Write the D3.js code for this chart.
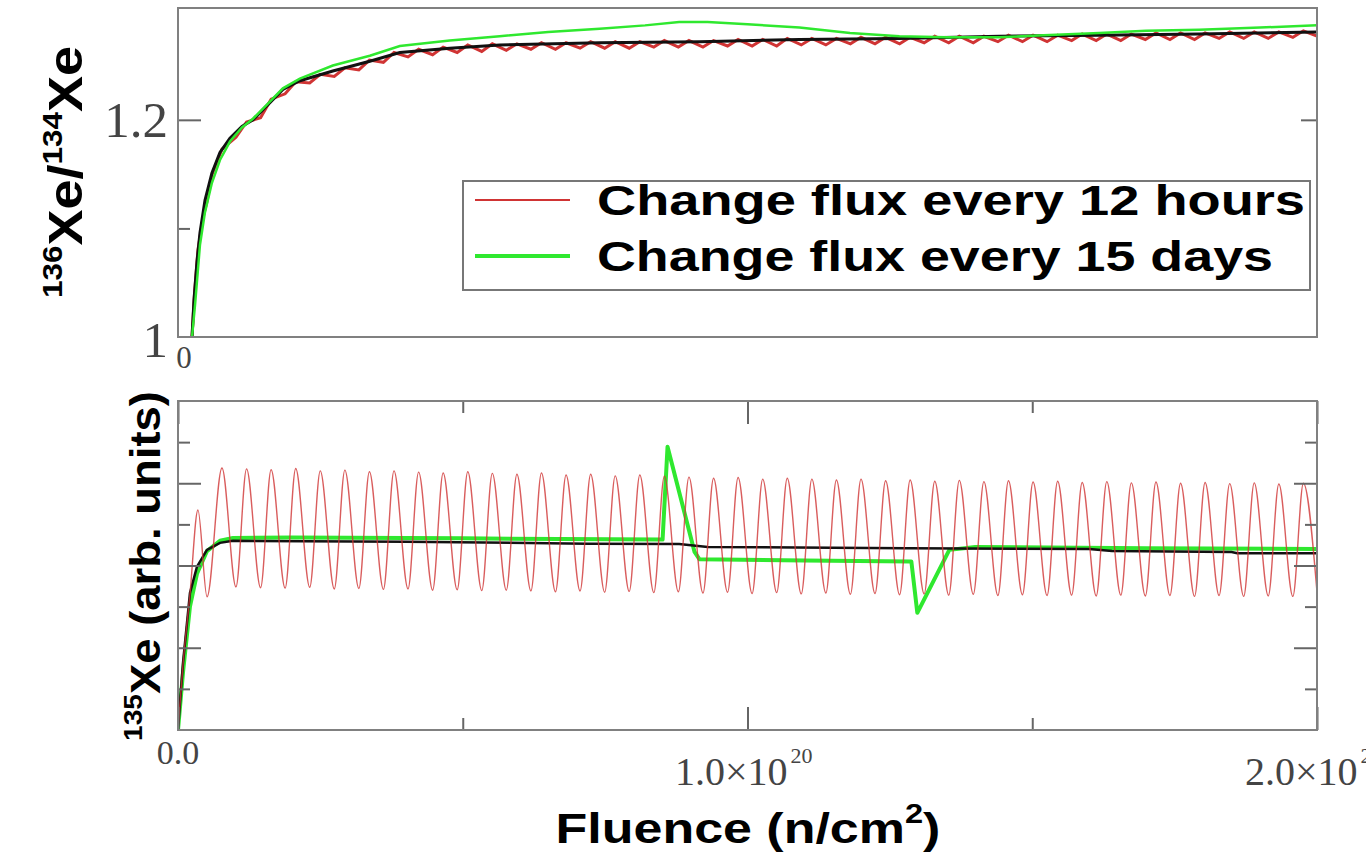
<!DOCTYPE html>
<html lang="en">
<head>
<meta charset="utf-8">
<title>Xe ratio vs fluence</title>
<script src="https://d3js.org/d3.v7.min.js"></script>
<style>
  html, body { margin: 0; padding: 0; background: #fff; }
  svg { display: block; }
</style>
</head>
<body>
<svg id="chart" width="1366" height="861"></svg>
<script>
// fluence in units of 1e18 n/cm2
var xTicksMajor = [0, 100, 200];
var xTicksMinor = [50, 150];
var topTicksMajor = [1.2];
var topTicksMinor = [1.1];
var botTicksMajor = [2, 4, 6];
var botTicksMinor = [1, 3, 5, 7];
var legendLabels = ["Change flux every 12 hours", "Change flux every 15 days"];

// top panel: 136Xe/134Xe
var ratioBlack = [[2.46,1.0],[2.81,1.034],[3.33,1.069],[3.86,1.096],[4.74,1.126],[5.96,1.151],[7.37,1.17],
  [9.12,1.183],[11.23,1.194],[13.16,1.2],[15.79,1.214],[18.42,1.228],[21.4,1.236],[27.19,1.245],[33.68,1.254],
  [38.95,1.262],[47.72,1.266],[56.49,1.269],[74.04,1.271],[91.58,1.272],[109.12,1.274],[126.67,1.275],
  [144.21,1.277],[161.75,1.278],[179.3,1.279],[200,1.281]];
var ratioGreen = [[2.46,1.0],[3.0,1.03],[3.86,1.085],[4.74,1.115],[5.96,1.142],[7.37,1.163],[9.12,1.18],
  [11.23,1.193],[13.16,1.201],[15.79,1.215],[18.42,1.229],[21.4,1.238],[27.19,1.25],[33.68,1.259],
  [38.95,1.268],[47.72,1.273],[56.49,1.277],[65,1.281],[74.04,1.284],[82,1.287],[88,1.29],[93,1.29],
  [100,1.288],[109.12,1.285],[118,1.28],[126.67,1.277],[135,1.276],[144.21,1.276],[152,1.278],
  [161.75,1.28],[170,1.282],[179.3,1.283],[190,1.285],[200,1.287]];
var ratioRed = [[2.46,1.0],[2.9,1.04],[3.5,1.08],[4.4,1.11],[5.1,1.125],[6.0,1.15],
  [7.72,1.173],[10.18,1.184],[12.04,1.198],[14.5,1.202],[16.35,1.219],[18.81,1.224],[20.67,1.235],[23.13,1.234],
  [24.98,1.242],[27.44,1.24],[29.3,1.248],[31.76,1.246],[33.61,1.255],[36.07,1.253],[37.93,1.262],[40.39,1.258],
  [42.25,1.265],[44.71,1.26],[46.56,1.267],[49.02,1.262],[50.88,1.269],[53.34,1.263],[55.19,1.27],[57.65,1.264],
  [59.51,1.27],[61.97,1.265],[63.82,1.271],[66.28,1.265],[68.14,1.271],[70.6,1.266],[72.46,1.272],[74.92,1.266],
  [76.77,1.272],[79.23,1.266],[81.09,1.272],[83.55,1.267],[85.4,1.273],[87.86,1.267],[89.72,1.273],[92.18,1.267],
  [94.04,1.273],[96.5,1.268],[98.35,1.274],[100.81,1.268],[102.67,1.274],[105.13,1.268],[106.98,1.275],[109.44,1.269],
  [111.3,1.275],[113.76,1.269],[115.61,1.275],[118.07,1.27],[119.93,1.276],[122.39,1.27],[124.25,1.276],[126.71,1.27],
  [128.56,1.276],[131.02,1.271],[132.88,1.277],[135.34,1.271],[137.19,1.277],[139.65,1.271],[141.51,1.277],[143.97,1.272],
  [145.82,1.278],[148.28,1.272],[150.14,1.278],[152.6,1.272],[154.46,1.278],[156.92,1.273],[158.77,1.279],[161.23,1.273],
  [163.09,1.279],[165.55,1.273],[167.4,1.279],[169.86,1.274],[171.72,1.28],[174.18,1.274],[176.04,1.28],[178.5,1.274],
  [180.35,1.28],[182.81,1.275],[184.67,1.281],[187.13,1.275],[188.98,1.281],[191.44,1.275],[193.3,1.281],[195.76,1.276],
  [197.61,1.282],[200,1.277]];

// bottom panel: 135Xe (arb. units)
var xeBlack = [[0,0],[0.88,1.63],[2.1,3.33],[3.33,3.97],[5.08,4.38],[7.37,4.55],[9.65,4.6],[40,4.58],
  [72,4.53],[88,4.52],[93,4.45],[115,4.43],[128,4.42],[160,4.4],[164,4.35],[185,4.33],[186,4.3],[200,4.3]];
var xeGreen = [[0,0],[0.88,1.4],[2.1,3.0],[3.33,3.8],[5.08,4.35],[7.37,4.6],[9.65,4.67],[20,4.68],[50,4.66],
  [85.09,4.63],[85.96,6.89],[90.7,4.33],[91.58,4.15],[110,4.12],[128.77,4.1],[129.82,2.85],[135.44,4.38],
  [140,4.45],[170,4.42],[200,4.4]];
var xeRed = [[0,0],[0.88,1.6],[2.1,3.3],[3.5,5.35],[5.1,3.24],
  [7.72,6.37],[10.18,3.48],[12.04,6.35],[14.5,3.46],[16.35,6.33],[18.81,3.45],[20.67,6.36],[23.13,3.47],
  [24.98,6.3],[27.44,3.43],[29.3,6.32],[31.76,3.44],[33.61,6.28],[36.07,3.42],[37.93,6.3],[40.39,3.43],
  [42.25,6.27],[44.71,3.4],[46.56,6.25],[49.02,3.41],[50.88,6.28],[53.34,3.39],[55.19,6.24],[57.65,3.4],
  [59.51,6.22],[61.97,3.38],[63.82,6.25],[66.28,3.36],[68.14,6.2],[70.6,3.38],[72.46,6.22],[74.92,3.35],
  [76.77,6.18],[79.23,3.37],[81.09,6.2],[83.55,3.34],[85.4,6.17],[87.86,3.36],[89.72,6.15],[92.18,3.33],
  [94.04,6.12],[96.5,3.35],[98.35,6.14],[100.81,3.32],[102.67,6.1],[105.13,3.34],[106.98,6.12],[109.44,3.31],
  [111.3,6.1],[113.76,3.33],[115.61,6.08],[118.07,3.3],[119.93,6.1],[122.39,3.32],[124.25,6.06],[126.71,3.29],
  [128.56,6.08],[131.02,3.31],[132.88,6.05],[135.34,3.28],[137.19,6.07],[139.65,3.3],[141.51,6.04],[143.97,3.27],
  [145.82,6.06],[148.28,3.29],[150.14,6.03],[152.6,3.27],[154.46,6.05],[156.92,3.28],[158.77,6.02],[161.23,3.26],
  [163.09,6.04],[165.55,3.28],[167.4,6.01],[169.86,3.26],[171.72,6.03],[174.18,3.27],[176.04,6.0],[178.5,3.25],
  [180.35,6.02],[182.81,3.27],[184.67,5.99],[187.13,3.25],[188.98,6.01],[191.44,3.26],[193.3,5.98],[195.76,3.25],
  [197.61,6.0],[200,3.35]];

var RED = "#d03434", GREEN = "#2fe82f", BLACK = "#111", FRAME = "#808080";
var svg = d3.select("#chart");
var left = 178, right = 1317;

var x = d3.scaleLinear().domain([0, 200]).range([left, right]);
var yTop = d3.scaleLinear().domain([1, 1.303]).range([337, 8]);
var yBot = d3.scaleLinear().domain([0, 8]).range([730, 401]);

// clip paths
var defs = svg.append("defs");
defs.append("clipPath").attr("id", "clipTop").append("rect")
    .attr("x", left).attr("y", 8).attr("width", right - left).attr("height", 329);
defs.append("clipPath").attr("id", "clipBot").append("rect")
    .attr("x", left).attr("y", 401).attr("width", right - left).attr("height", 329);

function lineFor(ys, curve) {
    return d3.line().x(d => x(d[0])).y(d => ys(d[1])).curve(curve || d3.curveLinear);
}

// fit a text block to a given length along its own direction
function fitText(x0, y0, rot, len, build) {
    var g = svg.append("g");
    var t = g.append("text");
    build(t);
    var w = t.node().getBBox().width;
    g.attr("transform", `translate(${x0},${y0}) rotate(${rot}) scale(${len / w},1)`);
    return t;
}

// ---------- top panel ----------
var topG = svg.append("g");
var topPlot = topG.append("g").attr("clip-path", "url(#clipTop)");
topPlot.append("path").datum(ratioRed).attr("d", lineFor(yTop))
    .attr("fill", "none").attr("stroke", RED).attr("stroke-width", 3);
topPlot.append("path").datum(ratioBlack).attr("d", lineFor(yTop))
    .attr("fill", "none").attr("stroke", BLACK).attr("stroke-width", 3);
topPlot.append("path").datum(ratioGreen).attr("d", lineFor(yTop))
    .attr("fill", "none").attr("stroke", GREEN).attr("stroke-width", 2.5);

function insideTicks(g, scale, vals, size, side) {
    var ax = side === "left" ? d3.axisLeft(scale) : side === "right" ? d3.axisRight(scale)
           : side === "bottom" ? d3.axisBottom(scale) : d3.axisTop(scale);
    ax.tickValues(vals).tickSize(-size).tickFormat("");
    g.call(ax);
    g.select(".domain").remove();
    g.selectAll(".tick line").attr("stroke", "#666").attr("stroke-width", 2);
}
insideTicks(topG.append("g").attr("transform", `translate(${left},0)`), yTop, topTicksMajor, 23, "left");
insideTicks(topG.append("g").attr("transform", `translate(${left},0)`), yTop, topTicksMinor, 12, "left");
insideTicks(topG.append("g").attr("transform", `translate(${right},0)`), yTop, topTicksMajor, 16, "right");

topG.append("rect").attr("x", left).attr("y", 8).attr("width", right - left).attr("height", 329)
    .attr("fill", "none").attr("stroke", FRAME).attr("stroke-width", 2);

// legend
var lg = svg.append("g");
lg.append("rect").attr("x", 463).attr("y", 181).attr("width", 847).attr("height", 109)
    .attr("fill", "#fff").attr("stroke", "#777").attr("stroke-width", 2);
var legColors = [RED, GREEN], legWidths = [2, 4], legY = [200, 256], legLen = [708, 676];
legendLabels.forEach(function (lab, i) {
    lg.append("line").attr("x1", 475).attr("x2", 570).attr("y1", legY[i]).attr("y2", legY[i])
        .attr("stroke", legColors[i]).attr("stroke-width", legWidths[i]);
    svg.append("text").attr("x", 597).attr("y", legY[i] + 15)
        .attr("font-family", "Liberation Sans, Arial, sans-serif").attr("font-weight", "bold")
        .attr("font-size", 42).attr("fill", "#000")
        .attr("textLength", legLen[i]).attr("lengthAdjust", "spacingAndGlyphs")
        .text(lab);
});

// ---------- bottom panel ----------
var botG = svg.append("g");
var botPlot = botG.append("g").attr("clip-path", "url(#clipBot)");
botPlot.append("path").datum(xeGreen).attr("d", lineFor(yBot))
    .attr("fill", "none").attr("stroke", GREEN).attr("stroke-width", 4).attr("stroke-linejoin", "round");
botPlot.append("path").datum(xeBlack).attr("d", lineFor(yBot))
    .attr("fill", "none").attr("stroke", BLACK).attr("stroke-width", 2.5);
botPlot.append("path").datum(xeRed).attr("d", lineFor(yBot, d3.curveMonotoneX))
    .attr("fill", "none").attr("stroke", RED).attr("stroke-width", 1.4).attr("opacity", 0.8);

insideTicks(botG.append("g").attr("transform", `translate(${left},0)`), yBot, botTicksMajor, 23, "left");
insideTicks(botG.append("g").attr("transform", `translate(${left},0)`), yBot, botTicksMinor, 12, "left");
insideTicks(botG.append("g").attr("transform", `translate(${right},0)`), yBot, botTicksMajor, 23, "right");
insideTicks(botG.append("g").attr("transform", `translate(${right},0)`), yBot, botTicksMinor, 12, "right");
insideTicks(botG.append("g").attr("transform", "translate(0,730)"), x, xTicksMajor, 23, "bottom");
insideTicks(botG.append("g").attr("transform", "translate(0,730)"), x, xTicksMinor, 12, "bottom");
insideTicks(botG.append("g").attr("transform", "translate(0,401)"), x, xTicksMajor, 23, "top");
insideTicks(botG.append("g").attr("transform", "translate(0,401)"), x, xTicksMinor, 12, "top");

botG.append("rect").attr("x", left).attr("y", 401).attr("width", right - left).attr("height", 329)
    .attr("fill", "none").attr("stroke", FRAME).attr("stroke-width", 2);

// ---------- tick labels ----------
var SERIF = "Liberation Serif, Times New Roman, serif";
function serifLabel(txt, xx, yy, size, anchor) {
    return svg.append("text").attr("x", xx).attr("y", yy).attr("text-anchor", anchor)
        .attr("font-family", SERIF).attr("font-size", size).attr("fill", "#444").text(txt);
}
serifLabel("1.2", 168, 137, 51, "end");
serifLabel("1", 168, 357, 51, "end");
serifLabel("0", 184, 368, 31, "middle");
serifLabel("0.0", x(0), 764, 34, "middle");

function sciLabel(mant, xx) {
    var t = svg.append("text").attr("x", xx).attr("y", 785)
        .attr("font-family", SERIF).attr("font-size", 40).attr("fill", "#444");
    t.append("tspan").text(mant + "\u00d710");
    t.append("tspan").attr("dx", 3).attr("dy", -22).attr("font-size", 22).text("20");
}
sciLabel("1.0", 675);
sciLabel("2.0", 1245);

// ---------- axis titles ----------
var SANS = "Liberation Sans, Arial, sans-serif";
fitText(748, 843, 0, 385, function (t) {
    t.attr("text-anchor", "middle").attr("font-family", SANS).attr("font-weight", "bold")
     .attr("font-size", 43).attr("fill", "#000");
    t.append("tspan").text("Fluence (n/cm");
    t.append("tspan").attr("dy", -20).attr("font-size", 27).text("2");
    t.append("tspan").attr("dy", 20).text(")");
});

fitText(82, 172, -90, 252, function (t) {
    t.attr("text-anchor", "middle").attr("font-family", SANS).attr("font-weight", "bold")
     .attr("font-size", 48).attr("fill", "#000");
    t.append("tspan").attr("dy", -20).attr("font-size", 28).text("136");
    t.append("tspan").attr("dy", 20).text("Xe/");
    t.append("tspan").attr("dy", -20).attr("font-size", 28).text("134");
    t.append("tspan").attr("dy", 20).text("Xe");
});

fitText(160, 566, -90, 350, function (t) {
    t.attr("text-anchor", "middle").attr("font-family", SANS).attr("font-weight", "bold")
     .attr("font-size", 42).attr("fill", "#000");
    t.append("tspan").attr("dy", -18).attr("font-size", 26).text("135");
    t.append("tspan").attr("dy", 18).text("Xe (arb. units)");
});
</script>
</body>
</html>
